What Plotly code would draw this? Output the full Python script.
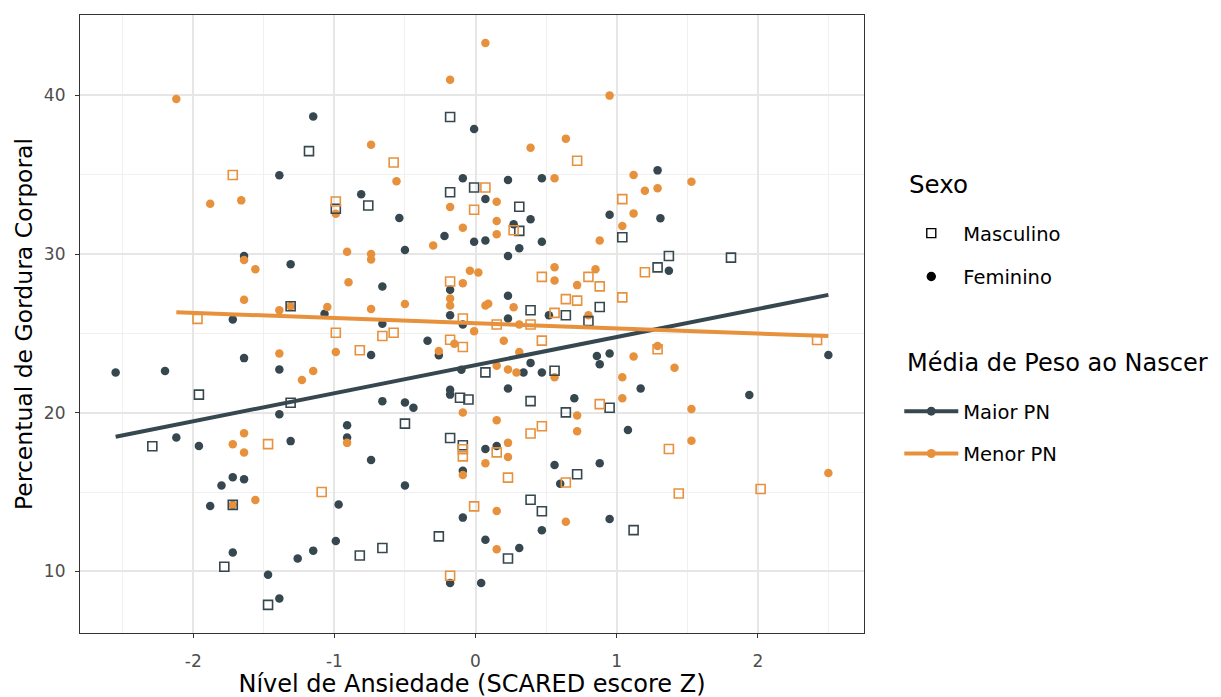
import numpy as np
import plotly.graph_objects as go

# ---- Data ----
# Maior PN, Feminino (dark circles)
maior_fem_x = [-1.15, -1.39, -1.64, -1.31, -1.07, -1.72,
               -0.01, -0.09, 0.23, 0.47, -0.81, 0.07, -0.54, 0.39, 0.27, -0.22, -0.01, 0.07, 0.47, 0.95,
               -0.50, 0.31, 0.23, -0.66, -0.18, -0.18, 0.23, 0.52, 0.23, -0.66,
               1.29, 1.31, 1.37,
               -2.55, -2.20, -1.64, -1.39, -1.39, -0.91, -0.91, -2.12, -1.96, -1.31, -1.80, -1.72, -1.64,
               -1.88, -0.97, -1.72, -1.26, -1.15, -0.99, -1.47, -1.39,
               -0.09, -0.74, -0.34, -0.26, 0.39, 0.86, 0.88, 0.95, 0.34, 0.47, -0.10, -0.18, -0.18, 0.23,
               0.70, -0.66, -0.50, -0.44, -0.74, -0.50, 0.07, 0.15, -0.09, 0.56, 0.88, 0.60, -0.09, 0.47,
               0.95, 0.07, 0.31, -0.18, 0.04,
               1.17, 1.08, 1.94, 2.50]
maior_fem_y = [38.66, 34.96, 29.87, 29.35, 26.23, 25.87,
               37.88, 34.77, 34.66, 34.77, 33.77, 33.46, 32.27, 32.19, 31.87, 31.14, 30.77, 30.85, 30.77, 32.48,
               30.25, 30.37, 29.87, 27.96, 27.75, 26.14, 27.37, 26.14, 25.94, 25.60,
               35.27, 32.25, 28.94,
               22.54, 22.63, 23.44, 22.73, 19.91, 19.21, 18.44, 18.44, 17.91, 18.21, 15.41, 15.94, 15.81,
               14.12, 14.21, 11.19, 10.81, 11.31, 11.91, 9.79, 8.29,
               25.56, 23.64, 24.54, 23.62, 23.14, 23.58, 23.06, 23.73, 22.54, 22.54, 22.71, 21.44, 21.14, 21.52,
               20.91, 20.73, 20.64, 20.31, 17.02, 15.41, 17.71, 17.91, 16.35, 16.71, 16.81, 15.52, 13.39, 12.60,
               13.31, 12.00, 11.48, 9.27, 9.27,
               21.52, 18.91, 21.12, 23.64]

# Maior PN, Masculino (dark open squares)
maior_masc_x = [-1.18, -0.99, -1.31, -0.18, -0.01, -0.76, -0.18, 0.31, 0.31, 0.39, 0.64, 0.88, 0.80,
                1.04, 1.37, 1.29, 1.81, -1.96, -1.31, -2.29, -1.72, -1.78, -1.47,
                0.07, 0.56, -0.11, -0.05, 0.39, 0.64, 0.95, -0.50, -0.18, -0.09, 0.72, 0.39, 0.47,
                -0.26, -0.82, -0.66, 0.23, 1.12]
maior_masc_y = [36.48, 32.85, 26.71, 38.63, 34.19, 33.06, 33.89, 32.98, 31.46, 26.46, 26.14, 26.66, 25.77,
                31.06, 29.87, 29.16, 29.77, 21.14, 20.63, 17.89, 14.19, 10.29, 7.89,
                22.54, 22.64, 20.94, 20.83, 20.73, 20.02, 20.31, 19.31, 18.41, 17.95, 16.12, 14.52, 13.79,
                12.21, 11.00, 11.48, 10.81, 12.60]

# Menor PN, Feminino (orange circles)
menor_fem_x = [-2.12, -1.88, -1.66, -0.99, -0.91, -1.64, -1.56, -0.90, -1.64, -1.39, -1.31, -1.05,
               0.07, -0.18, 0.95, -0.74, 0.64, 0.39, -0.56, 0.56, 0.15, -0.18, 0.15, -0.09, 0.15, -0.30,
               0.88, -0.74, -0.74, -0.50, -0.74, -0.04, 0.02, -0.09, -0.18, -0.18, 0.56, 0.56, 0.72, 0.85,
               0.07, 0.09, 0.27, 0.80, 0.31,
               1.12, 1.53, 1.20, 1.29, 1.12, 1.04,
               -0.99, -1.39, -1.23, -1.15, -0.91, -1.64, -1.72, -1.64, -1.72, -1.56,
               -0.26, -0.15, -0.01, 0.20, 0.31, 0.15, 0.23, 0.29, 0.56, 0.72, 0.72, -0.09, 0.15, 0.23,
               0.23, 0.07, -0.09, 0.15, 0.64, 0.15,
               1.12, 1.29, 1.41, 1.04, 1.04, 1.53, 1.53, 2.50]
menor_fem_y = [39.77, 33.16, 33.38, 32.54, 30.14, 29.62, 29.04, 28.22, 27.12, 26.46, 26.71, 26.66,
               43.29, 40.98, 39.98, 36.88, 37.27, 36.69, 34.58, 34.77, 33.29, 32.96, 32.08, 31.66, 31.25, 30.54,
               30.85, 30.00, 29.66, 26.85, 26.54, 28.94, 28.83, 28.16, 27.20, 26.75, 29.16, 28.33, 28.04, 29.04,
               26.75, 26.87, 26.64, 26.14, 25.56,
               34.98, 34.56, 33.98, 34.14, 32.56, 31.77,
               23.83, 23.73, 22.06, 22.63, 18.10, 18.71, 18.02, 17.50, 14.19, 14.50,
               23.89, 24.35, 25.13, 24.54, 23.83, 22.96, 22.73, 22.54, 22.23, 19.83, 18.83, 20.02, 19.52, 18.10,
               17.21, 16.81, 16.08, 13.81, 13.13, 11.39,
               23.54, 24.20, 22.83, 22.23, 20.91, 20.23, 18.23, 16.20]

# Menor PN, Masculino (orange open squares)
menor_masc_x = [-1.72, -0.99, -1.97, -0.58, 0.72, 0.07, -0.01, 0.27, -0.18, 0.47, 0.80, 0.88, 0.64, 0.72,
                0.56, -0.09, 0.15, 0.39, 1.04, 1.20, 1.04, -0.99, -1.47, -1.09, -0.66, -0.58, -0.82,
                -0.18, -0.09, 0.47, 0.88, -0.09, -0.09, 0.15, 0.23, 0.64, -0.01, -0.18, 0.39, 0.47,
                1.29, 1.37, 1.44, 2.02, 2.42]
menor_masc_y = [34.98, 33.31, 25.91, 35.77, 35.88, 34.19, 32.79, 31.50, 28.27, 28.56, 28.56, 27.96, 27.16, 27.06,
                26.29, 25.94, 25.56, 25.56, 33.46, 28.85, 27.27, 25.04, 18.02, 15.00, 24.83, 25.04, 23.94,
                24.60, 24.14, 24.54, 20.54, 17.70, 17.25, 17.50, 15.91, 15.60, 14.10, 9.73, 18.69, 19.15,
                24.00, 17.71, 14.91, 15.19, 24.58]

# Linear fit per group (intercept, slope)
groups = ["Maior PN", "Menor PN"]
fit_intercept = [23.0, 25.64]
fit_slope = [1.77, -0.325]

sex_labels = ["Masculino", "Feminino"]
x_ticks = [-2, -1, 0, 1, 2]
y_ticks = [10, 20, 30, 40]

# ---- Styles ----
DARK = "#36474F"
ORANGE = "#E8913D"
FONT = "DejaVu Sans, Liberation Sans, Arial, sans-serif"

fig = go.Figure()

def add_points(x, y, color, symbol):
    if symbol == "circle":
        marker = dict(symbol="circle", size=8.5, color=color, line=dict(width=0))
    else:
        marker = dict(symbol="square-open", size=9, color=color, line=dict(width=1.6, color=color))
    fig.add_trace(go.Scatter(x=x, y=y, mode="markers", marker=marker,
                             showlegend=False, hoverinfo="x+y"))

add_points(maior_fem_x, maior_fem_y, DARK, "circle")
add_points(menor_fem_x, menor_fem_y, ORANGE, "circle")
add_points(maior_masc_x, maior_masc_y, DARK, "square")
add_points(menor_masc_x, menor_masc_y, ORANGE, "square")

# regression lines over each group's data range
group_x = [maior_fem_x + maior_masc_x, menor_fem_x + menor_masc_x]
colors = [DARK, ORANGE]
for g, gx, a, b, c in zip(groups, group_x, fit_intercept, fit_slope, colors):
    xs = np.array([min(gx), max(gx)])
    fig.add_trace(go.Scatter(x=xs, y=a + b * xs, mode="lines", line=dict(color=c, width=4),
                             showlegend=False, hoverinfo="skip"))

# ---- Legend entries ----
for i, (lab, sym) in enumerate(zip(sex_labels, ["square-open", "circle"])):
    mk = dict(symbol=sym, size=8 if sym == "circle" else 9, color="black",
              line=dict(width=1.4, color="black"))
    fig.add_trace(go.Scatter(x=[None], y=[None], mode="markers", marker=mk, name=lab,
                             legend="legend", legendgroup="s%d" % i, showlegend=True))
for i, (g, c) in enumerate(zip(groups, colors)):
    fig.add_trace(go.Scatter(x=[None], y=[None], mode="lines+markers", name=g,
                             line=dict(color=c, width=4), marker=dict(color=c, size=9),
                             legend="legend2", legendgroup="g%d" % i, showlegend=True))

all_x = maior_fem_x + maior_masc_x + menor_fem_x + menor_masc_x
all_y = maior_fem_y + maior_masc_y + menor_fem_y + menor_masc_y
xr = max(all_x) - min(all_x)
yr = max(all_y) - min(all_y)
x_range = [min(all_x) - 0.05 * xr, max(all_x) + 0.05 * xr]
y_range = [min(all_y) - 0.05 * yr, max(all_y) + 0.05 * yr]

axis_common = dict(
    showline=True, mirror=True, linecolor="#333333", linewidth=1.2,
    showgrid=True, gridcolor="#E6E6E6", gridwidth=1.5,
    ticks="outside", ticklen=4, tickcolor="#333333", tickwidth=1.1,
    tickfont=dict(family=FONT, size=17, color="#4D4D4D"),
    zeroline=False, automargin=False,
)

fig.update_layout(
    width=1221, height=697,
    margin=dict(l=72, r=365, t=7, b=72),
    plot_bgcolor="white", paper_bgcolor="white",
    font=dict(family=FONT, color="black"),
    xaxis=dict(range=x_range, tickvals=x_ticks, ticktext=[str(v) for v in x_ticks],
               minor=dict(showgrid=True, gridcolor="#F0F0F0", gridwidth=1, dtick=0.5, tick0=0),
               ticklabelstandoff=8,
               title=dict(text="Nível de Ansiedade (SCARED escore Z)", font=dict(size=24), standoff=0),
               **axis_common),
    yaxis=dict(range=y_range, tickvals=y_ticks, ticktext=[str(v) for v in y_ticks],
               minor=dict(showgrid=True, gridcolor="#F0F0F0", gridwidth=1, dtick=5, tick0=0),
               ticklabelstandoff=6,
               title=dict(text="Percentual de Gordura Corporal", font=dict(size=23.5), standoff=4),
               **axis_common),
    legend=dict(x=1.045, y=0.678, xanchor="left", yanchor="top", font=dict(size=19.5),
                tracegroupgap=15, itemwidth=54, bgcolor="rgba(0,0,0,0)"),
    legend2=dict(x=1.045, y=0.39, xanchor="left", yanchor="top", font=dict(size=19.5),
                 tracegroupgap=14, itemwidth=54, bgcolor="rgba(0,0,0,0)"),
    annotations=[
        dict(text="Sexo", x=1.055, y=0.725, xref="paper", yref="paper", xanchor="left",
             yanchor="middle", showarrow=False, font=dict(size=24.5, color="black")),
        dict(text="Média de Peso ao Nascer", x=1.0523, y=0.437, xref="paper", yref="paper",
             xanchor="left", yanchor="middle", showarrow=False, font=dict(size=24, color="black")),
    ],
)

fig.write_html("out.html")
